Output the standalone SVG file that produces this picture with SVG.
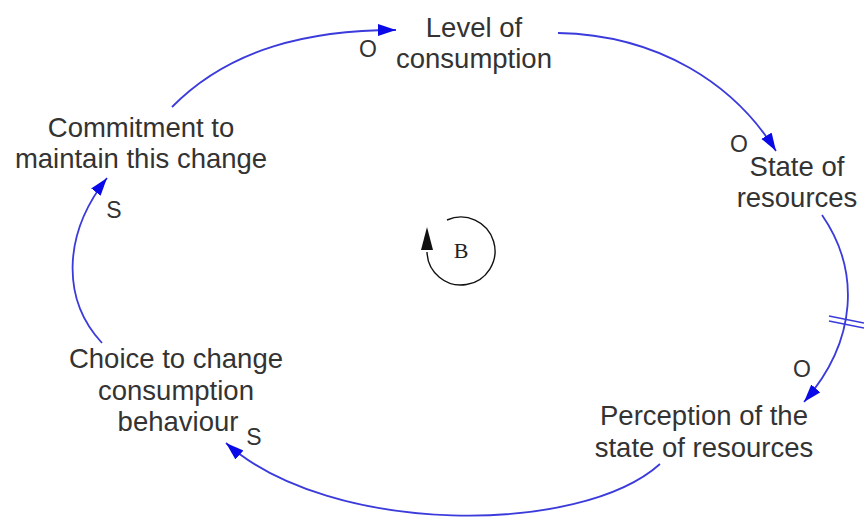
<svg xmlns="http://www.w3.org/2000/svg" width="864" height="520" viewBox="0 0 864 520">
<style>
.lbl{font-family:"Liberation Sans",Arial,sans-serif;font-size:27.5px;fill:#333;text-anchor:middle}
.pol{font-family:"Liberation Sans",Arial,sans-serif;font-size:23px;fill:#333;text-anchor:middle}
.link{fill:none;stroke:#3b3bdc;stroke-width:1.8;marker-end:url(#ah)}
</style>
<defs>
<marker id="ah" markerUnits="userSpaceOnUse" markerWidth="20" markerHeight="14" refX="18" refY="6" orient="auto">
<path d="M0,0 L18,6 L0,12 Z" fill="#0a0ae8"/>
</marker>
</defs>
<rect width="864" height="520" fill="#fff"/>
<g id="connectors">
<path class="link" d="M172 107 C230 48,310 30,396 30"/>
<path class="link" d="M558 33 C660 35,735 85,776 151"/>
<path class="link" d="M822 215 C860 270,858 340,804 402"/>
<path class="link" d="M660 464 C580 536,330 536,226 443"/>
<path class="link" d="M102 343 C62 300,62 235,107 178"/>
<g stroke="#3b3bdc" stroke-width="1.6">
<line x1="829" y1="316" x2="864" y2="323"/>
<line x1="829" y1="321" x2="864" y2="328"/>
</g>
<text class="pol" x="368" y="57">O</text>
<text class="pol" x="739" y="152">O</text>
<text class="pol" x="802" y="377">O</text>
<text class="pol" x="254" y="445">S</text>
<text class="pol" x="114" y="218">S</text>
</g>
<g id="level">
<text class="lbl" x="474" y="37">Level of</text>
<text class="lbl" x="474" y="68">consumption</text>
</g>
<g id="state">
<text class="lbl" x="797" y="176">State of</text>
<text class="lbl" x="797" y="207">resources</text>
</g>
<g id="perception">
<text class="lbl" x="704" y="425">Perception of the</text>
<text class="lbl" x="704" y="457">state of resources</text>
</g>
<g id="choice">
<text class="lbl" x="176" y="368">Choice to change</text>
<text class="lbl" x="176" y="400">consumption</text>
<text class="lbl" x="178" y="431">behaviour</text>
</g>
<g id="commitment">
<text class="lbl" x="141" y="137">Commitment to</text>
<text class="lbl" x="141" y="168">maintain this change</text>
</g>
<g id="loop">
<path d="M447 220 A34 34 0 1 1 427 252" fill="none" stroke="#111" stroke-width="1.4"/>
<polygon points="427,227 421,250 433,250" fill="#111"/>
<text x="461" y="258" font-family="Liberation Serif,serif" font-size="22" fill="#222" text-anchor="middle">B</text>
</g>
</svg>
